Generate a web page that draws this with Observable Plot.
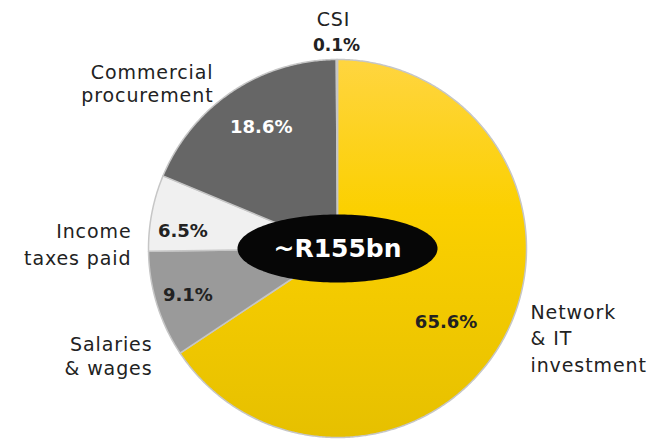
<!DOCTYPE html>
<html><head><meta charset="utf-8">
<script src="https://cdn.jsdelivr.net/npm/d3@7"></script>
<script src="https://cdn.jsdelivr.net/npm/@observablehq/plot@0.6"></script>
<style>body{margin:0;background:#fff}</style>
</head><body><div id="chart"></div>
<script>
// ---- data ----
const categories = ["Network\n& IT\ninvestment", "Salaries\n& wages", "Income\ntaxes paid", "Commercial\nprocurement", "CSI"];
const shares = [65.6, 9.1, 6.5, 18.6, 0.1];
const totalLabel = "~R155bn";

// ---- layout / style ----
const W = 666, H = 443, cx = 337, cy = 248, R = 189;
const fills = ["url(#ygrad)", "#9a9a9a", "#f0f0f0", "#666666", "#b5b5b5"];
const pctColors = ["#222", "#222", "#222", "#fff", "#222"];
const pctNudge = [[-23, 3], [-7, 3], [-8, 11], [7, 3], [0, 0]];
const nameLayout = [
  {x: 530, y: 371, anchor: "start", lh: 1.37},
  {x: 152, y: 374, anchor: "end", lh: 1.26},
  {x: 131, y: 264, anchor: "end", lh: 1.37},
  {x: 213, y: 101, anchor: "end", lh: 1.16},
  {x: 333, y: 25, anchor: "middle", lh: 1.2}
];

const arcs = d3.pie().sort(null).value(d => d.v)(shares.map((v, i) => ({v, i})));
function arcPoints(a) {
  const pts = [{x: cx, y: cy}];
  const n = Math.max(2, Math.ceil((a.endAngle - a.startAngle) / (Math.PI / 360)));
  for (let k = 0; k <= n; k++) {
    const t = a.startAngle + (a.endAngle - a.startAngle) * k / n;
    pts.push({x: cx + R * Math.sin(t), y: cy - R * Math.cos(t)});
  }
  pts.push({x: cx, y: cy});
  return pts;
}
const ellipse = d3.range(0, 361, 2).map(d => ({x: cx + 100 * Math.cos(d * Math.PI / 180), y: cy + 34 * Math.sin(d * Math.PI / 180)}));

const fmt = v => v.toFixed(1) + "%";
const pctData = arcs.filter(a => a.data.i < 4).map(a => {
  const m = (a.startAngle + a.endAngle) / 2, i = a.data.i;
  return {x: cx + 0.79 * R * Math.sin(m) + pctNudge[i][0], y: cy - 0.79 * R * Math.cos(m) + pctNudge[i][1], t: fmt(shares[i]), c: pctColors[i]};
});

const defs = () => {
  const d = d3.create("svg:defs");
  const g = d.append("linearGradient").attr("id", "ygrad").attr("x1", 0).attr("y1", 0).attr("x2", 0).attr("y2", 1);
  g.append("stop").attr("offset", "0%").attr("stop-color", "#ffd540");
  g.append("stop").attr("offset", "40%").attr("stop-color", "#fbd000");
  g.append("stop").attr("offset", "100%").attr("stop-color", "#e6c000");
  return d.node();
};

const marks = [defs];
arcs.forEach(a => {
  marks.push(Plot.line(arcPoints(a), {x: "x", y: "y", fill: fills[a.data.i], stroke: "#c6c6c6", strokeWidth: 1.5, strokeLinejoin: "round"}));
});
marks.push(Plot.line(ellipse, {x: "x", y: "y", fill: "#060606", stroke: "none"}));
marks.push(Plot.text([totalLabel], {x: () => cx, y: () => cy, text: d => d, fill: "#fff", fontSize: 25, fontWeight: "bold"}));
marks.push(Plot.text(pctData, {x: "x", y: "y", text: "t", fill: "c", fontSize: 18, fontWeight: "bold"}));
categories.forEach((c, i) => {
  const L = nameLayout[i];
  marks.push(Plot.text([c], {x: () => L.x, y: () => L.y, text: d => d, textAnchor: L.anchor, lineAnchor: "bottom", lineHeight: L.lh, fontSize: 19, fill: "#222", ariaLabel: () => "name-label"}));
});
// CSI share shown under its name
marks.push(Plot.text([fmt(shares[4])], {x: () => nameLayout[4].x + 3, y: () => 50, text: d => d, textAnchor: "middle", lineAnchor: "bottom", fontSize: 17, fontWeight: "bold", fill: "#222"}));

const chart = Plot.plot({
  width: W, height: H, margin: 0,
  x: {domain: [0, W], range: [0, W], axis: null},
  y: {domain: [0, H], range: [0, H], axis: null},
  style: {fontFamily: "DejaVu Sans", background: "#fff"},
  marks
});
chart.querySelectorAll('[aria-label="name-label"]').forEach(t => t.style.letterSpacing = "0.9px");
document.getElementById("chart").appendChild(chart);
</script>
</body></html>
